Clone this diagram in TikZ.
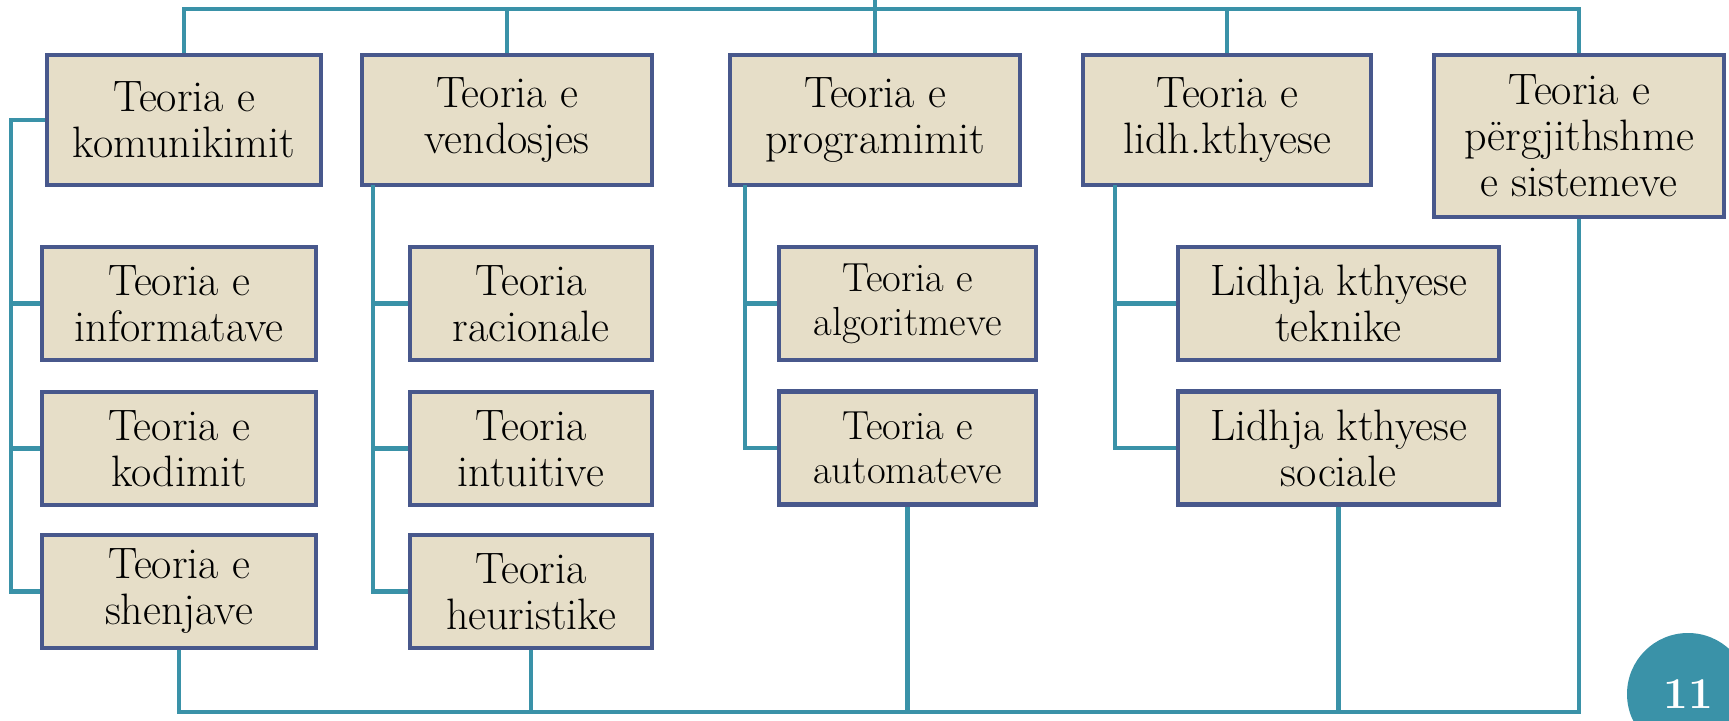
\documentclass[tikz,border=0pt]{standalone}
\usepackage{tikz}
\definecolor{boxbeige}{RGB}{230,222,200}
\definecolor{boxblue}{RGB}{72,88,140}
\definecolor{linkteal}{RGB}{58,146,168}
\tikzset{
	box/.style={draw=boxblue, fill=boxbeige, line width=2.2pt, align=center, inner sep=0pt, font=\fontsize{22}{23}\selectfont},
	topbox/.style={box, minimum height=65pt},
	subbox/.style={box, minimum height=56.5pt},
	link/.style={draw=linkteal, line width=2.2pt},
	pagenum/.style={circle, fill=linkteal, text=white, minimum size=61pt, font=\fontsize{22}{24}\selectfont\bfseries}
}

\begin{document}
\begin{tikzpicture}[x=0.5pt,y=-0.5pt]
	\useasboundingbox (0,0) rectangle (1729,721);
	\clip (0,0) rectangle (1729,721);

	\node[topbox, minimum width=137pt] (kom) at (184,120) {Teoria e\\komunikimit};
	\node[topbox, minimum width=145pt] (ven) at (507,120) {Teoria e\\vendosjes};
	\node[topbox, minimum width=145pt] (prog) at (875,120) {Teoria e\\programimit};
	\node[topbox, minimum width=144pt] (lidh) at (1227,120) {Teoria e\\lidh.kthyese};
	\node[topbox, minimum width=145pt, minimum height=81pt] (perg) at (1579,136) {Teoria e\\përgjithshme\\e sistemeve};

	\node[subbox, minimum width=137pt] (info) at (179,303.5) {Teoria e\\informatave};
	\node[subbox, minimum width=137pt] (kod) at (179,448.5) {Teoria e\\kodimit};
	\node[subbox, minimum width=137pt] (shen) at (179,591.5) {Teoria e\\shenjave};

	\node[subbox, minimum width=121pt] (rac) at (531,303.5) {Teoria\\racionale};
	\node[subbox, minimum width=121pt] (int) at (531,448.5) {Teoria\\intuitive};
	\node[subbox, minimum width=121pt] (heur) at (531,591.5) {Teoria\\heuristike};

	\node[subbox, minimum width=128.5pt, font=\fontsize{20.3}{22}\selectfont] (alg) at (907.5,303.5) {Teoria e\\algoritmeve};
	\node[subbox, minimum width=128.5pt, font=\fontsize{20.3}{22}\selectfont] (aut) at (907.5,448) {Teoria e\\automateve};

	\node[subbox, minimum width=160.5pt] (tek) at (1338.5,303.5) {Lidhja kthyese\\teknike};
	\node[subbox, minimum width=160.5pt] (soc) at (1338.5,448) {Lidhja kthyese\\sociale};

	\node[pagenum] (page) at (1688,694) {11};

	\coordinate (top) at (875,0);
	\coordinate (bar) at (0,9);
	\coordinate (base) at (0,712);
	\coordinate (busA) at (11,120);
	\coordinate (busB) at (373,185);
	\coordinate (busC) at (745,185);
	\coordinate (busD) at (1115,185);

	\draw[link] (top) -- (prog.north);
	\draw[link] (kom.north) -- (kom.north |- bar) -- (perg.north |- bar) -- (perg.north);
	\draw[link] (ven.north |- bar) -- (ven.north);
	\draw[link] (lidh.north |- bar) -- (lidh.north);

	\draw[link] (kom.west) -| (busA) |- (shen.west);
	\draw[link] (busA |- info.west) -- (info.west);
	\draw[link] (busA |- kod.west) -- (kod.west);

	\draw[link] (busB) |- (heur.west);
	\draw[link] (busB |- rac.west) -- (rac.west);
	\draw[link] (busB |- int.west) -- (int.west);

	\draw[link] (busC) |- (aut.west);
	\draw[link] (busC |- alg.west) -- (alg.west);

	\draw[link] (busD) |- (soc.west);
	\draw[link] (busD |- tek.west) -- (tek.west);

	\draw[link] (shen.south) -- (shen.south |- base) -- (perg.south |- base) -- (perg.south);
	\draw[link] (heur.south) -- (heur.south |- base);
	\draw[link] (aut.south) -- (aut.south |- base);
	\draw[link] (soc.south) -- (soc.south |- base);
\end{tikzpicture}
\end{document}
